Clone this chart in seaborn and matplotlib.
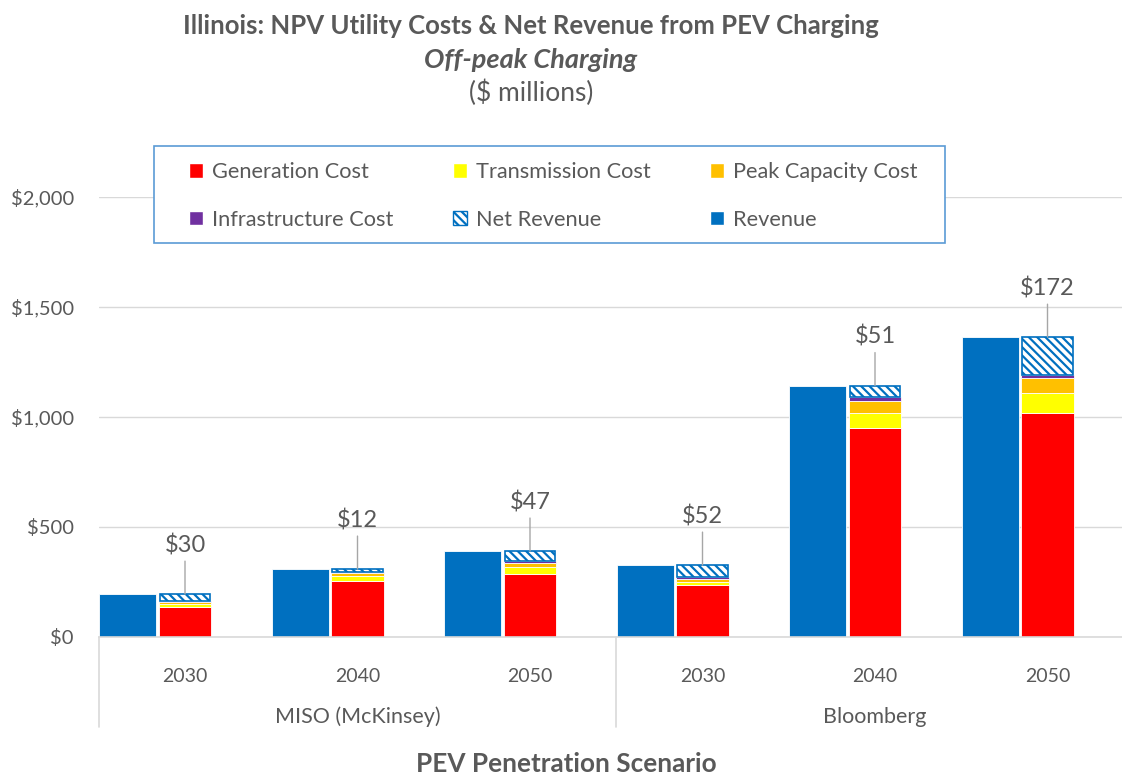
"""Illinois NPV utility costs and net revenue from PEV charging (off-peak)."""
import matplotlib
matplotlib.use("Agg")
import matplotlib.pyplot as plt
import matplotlib.transforms as mtransforms
from matplotlib.patches import Patch, Rectangle
import numpy as np
import seaborn as sns

scenarios = ["MISO (McKinsey)", "Bloomberg"]
years = ["2030", "2040", "2050", "2030", "2040", "2050"]

generation = [138, 255, 288, 236, 951, 1018]
transmission = [10, 21, 29, 15, 68, 93]
peak_capacity = [12, 14, 18, 14, 55, 65]
infrastructure = [5, 7, 9, 10, 18, 15]
net_revenue = [30, 12, 47, 52, 51, 172]
revenue = [195, 309, 391, 327, 1143, 1363]

yticks = [0, 500, 1000, 1500, 2000]

RED = "#FF0000"
YELLOW = "#FFFF00"
ORANGE = "#FFC000"
PURPLE = "#7030A0"
BLUE = "#0070C0"
GREY = "#595959"

sns.set_theme(style="white")
plt.rcParams["font.family"] = ["Lato", "DejaVu Sans"]
plt.rcParams["hatch.linewidth"] = 1.6
plt.rcParams["hatch.color"] = BLUE

W, H = 1122, 774
fig = plt.figure(figsize=(W / 100, H / 100), dpi=100)
ax = fig.add_axes([98.75 / W, 137 / H, (1122 - 98.75) / W, 440 / H])

x = np.arange(len(years))

# revenue bar to the left of each stacked cost bar
sns.barplot(x=x - 0.333, y=revenue, native_scale=True, width=0.33, color=BLUE,
            saturation=1, errorbar=None, edgecolor="white", linewidth=0.6, ax=ax)

bottom = np.zeros(len(years))
for vals, col in [(generation, RED), (transmission, YELLOW),
                  (peak_capacity, ORANGE), (infrastructure, PURPLE)]:
    ax.bar(x, vals, width=0.305, bottom=bottom, color=col,
           edgecolor="white", linewidth=0.6, zorder=2)
    bottom += np.array(vals)
ax.bar(x, net_revenue, width=0.295, bottom=bottom, color="white",
       edgecolor=BLUE, hatch="\\\\\\\\", linewidth=1.2, zorder=2)
tops = bottom + np.array(net_revenue)

for xi, top, v in zip(x, tops, net_revenue):
    ax.annotate(f"${v}", xy=(xi, top), xytext=(0, 35), textcoords="offset points",
                ha="center", va="center", fontsize=17, color=GREY,
                arrowprops=dict(arrowstyle="-", color="#A6A6A6", lw=1,
                                shrinkA=1, shrinkB=0))

ax.set_xlim(-0.5, (1122 - 98.75) / 172.5 - 0.5)
ax.set_ylim(0, 2000)
ax.set_yticks(yticks, [f"${v:,}" for v in yticks])
ax.set_xticks(x, years)
ax.tick_params(axis="x", length=0, pad=22, labelsize=14, labelcolor=GREY)
ax.tick_params(axis="y", length=0, pad=18, labelsize=14.5, labelcolor=GREY)
ax.set_xlabel("")
ax.set_ylabel("")
ax.grid(axis="y", color="#D9D9D9", lw=1)
ax.set_axisbelow(True)
for s in ["left", "right", "top"]:
    ax.spines[s].set_visible(False)
ax.spines["bottom"].set_color("#D9D9D9")
ax.spines["bottom"].set_linewidth(1.2)

# multi-level category axis
trans = mtransforms.blended_transform_factory(ax.transData, ax.transAxes)
for sx in [-0.5, 2.5, 5.5]:
    ax.plot([sx, sx], [0, -0.205], transform=trans, color="#D9D9D9", lw=1.2,
            clip_on=False)
for gx, name in zip([1, 4], scenarios):
    ax.text(gx, -0.181, name, transform=trans, ha="center", va="center",
            fontsize=15.5, color=GREY)

fig.text(531 / W, 1 - 26 / H, "Illinois: NPV Utility Costs & Net Revenue from PEV Charging",
         ha="center", va="center", fontsize=18.5, fontweight="bold", color=GREY)
fig.text(531 / W, 1 - 60 / H, "Off-peak Charging", ha="center", va="center",
         fontsize=19.5, fontweight="bold", fontstyle="italic", color=GREY)
fig.text(531 / W, 1 - 93 / H, "($ millions)", ha="center", va="center",
         fontsize=19, color=GREY)
fig.text(566 / W, 1 - 764 / H, "PEV Penetration Scenario", ha="center", va="center",
         fontsize=18.8, fontweight="bold", color=GREY)

# legend frame drawn separately so padding can differ in x and y
fig.patches.append(Rectangle((154 / W, 1 - 242.5 / H), (945 - 154) / W, 96.5 / H,
                             transform=fig.transFigure, facecolor="white",
                             edgecolor="#5B9BD5", lw=1.2, zorder=3))
handles = [
    Patch(facecolor=RED, label="Generation Cost"),
    Patch(facecolor=PURPLE, label="Infrastructure Cost"),
    Patch(facecolor=YELLOW, label="Transmission Cost"),
    Patch(facecolor="white", edgecolor=BLUE, hatch="\\\\\\\\", label="Net Revenue"),
    Patch(facecolor=ORANGE, label="Peak Capacity Cost"),
    Patch(facecolor=BLUE, label="Revenue"),
]
leg = fig.legend(handles=handles, ncol=3, loc="center left",
                 bbox_to_anchor=(189 / W, 1 - 196 / H), frameon=False,
                 fontsize=15.7, labelcolor=GREY,
                 handlelength=0.66, handleheight=0.66, handletextpad=0.4,
                 columnspacing=2.72, labelspacing=1.24, borderpad=0,
                 borderaxespad=0)
leg.set_zorder(4)

fig.savefig("out.png", dpi=100)
